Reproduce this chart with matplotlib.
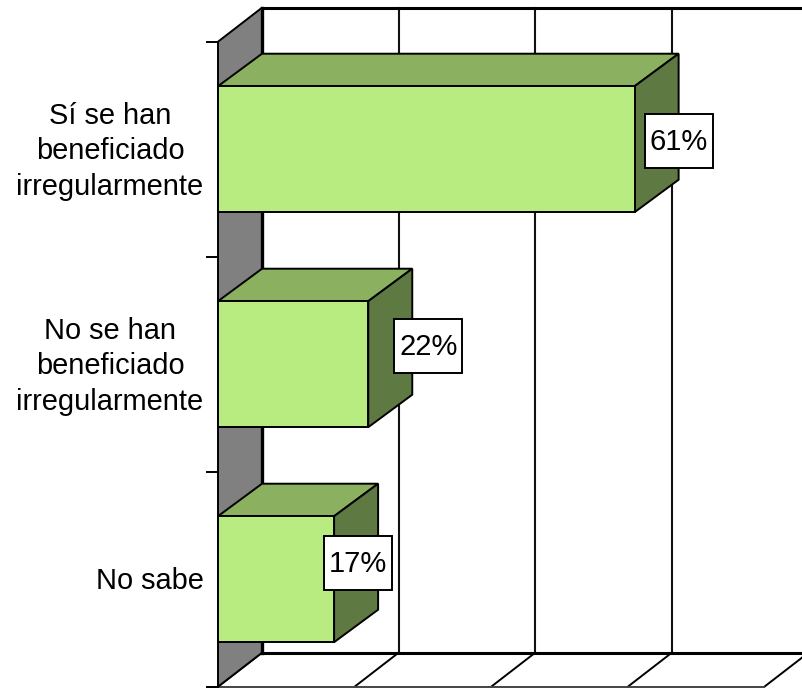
import matplotlib
matplotlib.use('Agg')
import matplotlib.pyplot as plt
from matplotlib.patches import Polygon, Rectangle

plt.rcParams['font.family'] = ['Liberation Sans', 'DejaVu Sans']

categories = ['Sí se han\nbeneficiado\nirregularmente', 'No se han\nbeneficiado\nirregularmente', 'No sabe']
values = [61, 22, 17]
grid_values = [0, 20, 40, 60, 80]

W, H = 803, 688
px_x = 6.83     # pixels per percent
px_y = 215.0    # pixels per category
x0 = 218        # pixel of 0% on the front plane
y0 = 149.2      # pixel centre of the first category
depth_x = 44 / px_x
depth_y = 34 / px_y
bar_depth_y = 32.5 / px_y
half = 63 / px_y

# the data labels were moved by hand in the original, offsets in pixels from the bar end / centre
label_dx = [44, 60, 24]
label_dy = [-8, -18, -16]
box_w, box_h = 68 / px_x, 54 / px_y

fig = plt.figure(figsize=(W / 100, H / 100), dpi=100)
ax = fig.add_axes([0, 0, 1, 1])
ax.set_xlim(-x0 / px_x, (W - x0) / px_x)
ax.set_ylim((H - y0) / px_y, -y0 / px_y)
ax.axis('off')

y_top = -0.5
y_bot = len(categories) - 0.5
line = dict(edgecolor='black', linewidth=1.4, joinstyle='miter')

# back wall gridlines and floor
for g in grid_values[1:]:
    ax.plot([g + depth_x, g + depth_x], [y_top - depth_y, y_bot - depth_y], color='#111111', lw=1.5, zorder=1)
for g in grid_values:
    ax.plot([g, g + depth_x], [y_bot, y_bot - depth_y], color='black', lw=1.4, zorder=1)
ax.plot([depth_x, grid_values[-1] + depth_x], [y_top - depth_y, y_top - depth_y], color='black', lw=2.2, zorder=1)
ax.plot([depth_x, grid_values[-1] + depth_x], [y_bot - depth_y, y_bot - depth_y], color='black', lw=2.2, zorder=1)
ax.plot([-11 / px_x, grid_values[-1]], [y_bot, y_bot], color='#444444', lw=1.4, zorder=1)

# left wall
ax.add_patch(Polygon([(0, y_top), (depth_x, y_top - depth_y), (depth_x, y_bot - depth_y), (0, y_bot)],
                     facecolor='#808080', zorder=2, **line))
ax.plot([depth_x, depth_x], [y_top - depth_y, y_bot - depth_y], color='black', lw=2.4, zorder=2)

# ticks on the category axis
for i in range(len(categories) + 1):
    ax.plot([-11 / px_x, 0], [i - 0.5, i - 0.5], color='black', lw=1.4, zorder=2)

for i, (cat, v) in enumerate(zip(categories, values)):
    t, b = i - half, i + half
    ax.add_patch(Polygon([(0, t), (depth_x, t - bar_depth_y), (v + depth_x, t - bar_depth_y), (v, t)],
                         facecolor='#8BB05F', zorder=3, **line))
    ax.add_patch(Polygon([(v, t), (v + depth_x, t - bar_depth_y), (v + depth_x, b - bar_depth_y), (v, b)],
                         facecolor='#5E7A42', zorder=3, **line))
    ax.add_patch(Polygon([(0, t), (v, t), (v, b), (0, b)],
                         facecolor='#B9EC80', zorder=4, **line))
    ax.text(-14.5 / px_x, i + 2 / px_y, cat, ha='right', va='center', fontsize=20.9, linespacing=1.35,
            multialignment='center', zorder=5)
    lx = v + label_dx[i] / px_x
    ly = i + label_dy[i] / px_y
    ax.add_patch(Rectangle((lx - box_w / 2, ly - box_h / 2), box_w, box_h, facecolor='white',
                           edgecolor='black', linewidth=1.4, zorder=6))
    ax.text(lx, ly + 1 / px_y, '%d%%' % v, ha='center', va='center', fontsize=21, zorder=7)

fig.savefig('out.png', dpi=100)
